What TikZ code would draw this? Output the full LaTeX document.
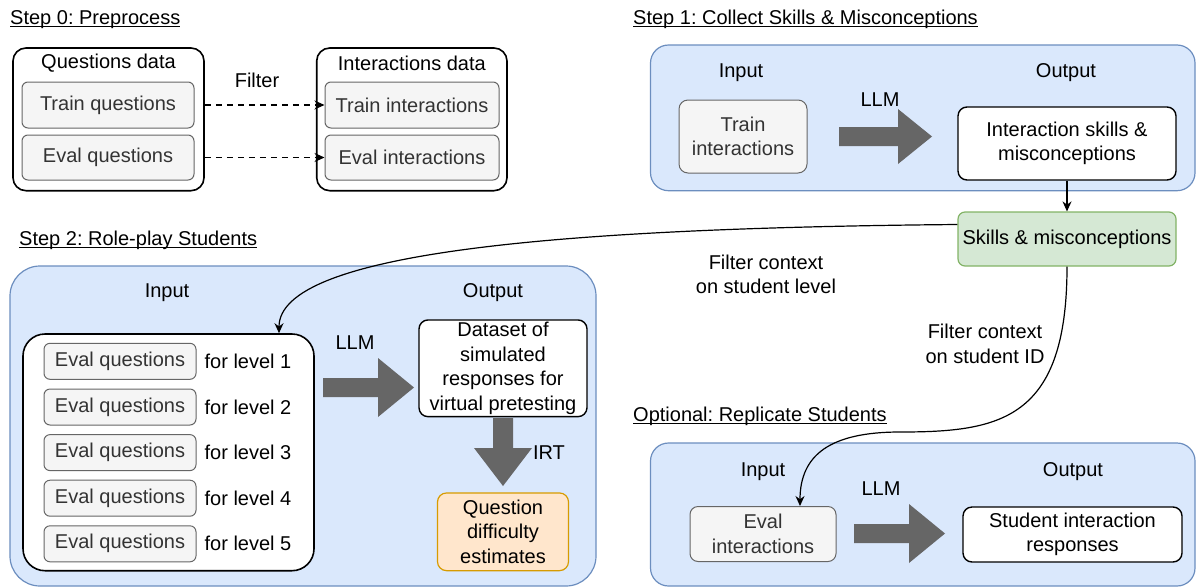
\documentclass[tikz,border=0pt]{standalone}
\usepackage{fontspec}
\setmainfont{Liberation Sans}
\usetikzlibrary{arrows.meta}
\definecolor{grayfill}{HTML}{F5F5F5}
\definecolor{graystroke}{HTML}{666666}
\definecolor{graytext}{HTML}{333333}
\definecolor{bluefill}{HTML}{DAE8FC}
\definecolor{bluestroke}{HTML}{6C8EBF}
\definecolor{greenfill}{HTML}{D5E8D4}
\definecolor{greenstroke}{HTML}{82B366}
\definecolor{orangefill}{HTML}{FFE6CC}
\definecolor{orangestroke}{HTML}{D79B00}
\definecolor{arrowgray}{HTML}{666666}
\frenchspacing
\begin{document}
\begin{tikzpicture}[x=1pt,y=-1pt,
  every node/.style={font=\fontsize{20}{24.5}\selectfont, inner sep=0pt, align=center},
  titlelbl/.style={anchor=base west},
  uline/.style={draw=black, line width=1.1pt},
  groupbox/.style={draw=black, line width=1.6pt, fill=white, rounded corners=13pt},
  graybox/.style={draw=graystroke, line width=1pt, fill=grayfill, text=graytext, rounded corners=6pt},
  bluepanel/.style={draw=bluestroke, line width=1.2pt, fill=bluefill},
  whitebox/.style={draw=black, line width=1.4pt, fill=white, rounded corners=9pt},
  greenbox/.style={draw=greenstroke, line width=1.2pt, fill=greenfill, rounded corners=7pt},
  orangebox/.style={draw=orangestroke, line width=1.2pt, fill=orangefill, rounded corners=9pt},
  bigarrow/.style={fill=arrowgray},
  conn/.style={draw=black, line width=1.2pt, -{Stealth[length=10pt,width=9pt]}},
  dconn/.style={conn, dash pattern=on 6pt off 5pt}
]
\useasboundingbox (0,0) rectangle (1196,587);

% ---------- Step 0 ----------
\node[titlelbl] (t0) at (10,24.5) {Step 0: Preprocess};
\draw[uline] ([yshift=-2.3pt]t0.base west) -- ([yshift=-2.3pt]t0.base east);
\node[groupbox, minimum width=191pt, minimum height=142.7pt] (qd) at (108.5,119.35) {};
\node (qdl) at (108.5,63) {Questions data};
\node[graybox, minimum width=172pt, minimum height=46pt] (tq) at (108,105) {Train questions};
\node[graybox, minimum width=172pt, minimum height=45pt] (eq) at (108,157.5) {Eval questions};
\node[groupbox, minimum width=190.3pt, minimum height=142.7pt] (id) at (411.85,119.35) {};
\node (idl) at (411.85,63) {Interactions data};
\node[graybox, minimum width=174pt, minimum height=46pt] (ti) at (412,105) {Train interactions};
\node[graybox, minimum width=174pt, minimum height=45pt] (ein) at (412,157.5) {Eval interactions};
\draw[dconn] (tq.east -| qd.east) -- (ti.west);
\draw[dconn] (eq.east -| qd.east) -- (ein.west);
\node (filt) at (257,80) {Filter};

% ---------- Step 1 ----------
\node[titlelbl] (t1) at (633,24.5) {Step 1: Collect Skills \& Misconceptions};
\draw[uline] ([yshift=-2.3pt]t1.base west) -- ([yshift=-2.3pt]t1.base east);
\node[bluepanel, rounded corners=18pt, minimum width=544.5pt, minimum height=145.7pt] (p1) at (922.75,117.85) {};
\node (in1) at (741,73) {Input};
\node (out1) at (1066,73) {Output};
\node[graybox, rounded corners=9pt, minimum width=128pt, minimum height=73pt] (tri) at (743,136.5) {Train\\interactions};
\node (llm1) at (880,100) {LLM};
\fill[bigarrow] (839,127) -- (898,127) -- (898,109) -- (932,136.5) -- (898,164) -- (898,146) -- (839,146) -- cycle;
\node[whitebox, minimum width=218pt, minimum height=73pt] (is) at (1067,143.5) {Interaction skills \&\\misconceptions};
\node[greenbox, minimum width=218pt, minimum height=54pt] (sk) at (1067,239) {Skills \& misconceptions};
\draw[conn] (is.south) -- (sk.north);

% ---------- Step 2 ----------
\node[titlelbl] (t2) at (19,245) {Step 2: Role-play Students};
\draw[uline] ([yshift=-2.3pt]t2.base west) -- ([yshift=-2.3pt]t2.base east);
\node[bluepanel, rounded corners=30pt, minimum width=586pt, minimum height=320pt] (p2) at (303,426) {};
\node (in2) at (167,293) {Input};
\node (out2) at (493,293) {Output};
\node[whitebox, line width=1.6pt, rounded corners=22pt, minimum width=291pt, minimum height=236.7pt] (inner) at (168.5,452.35) {};
\foreach \i/\yy in {1/361.3, 2/407, 3/452.6, 4/498.2, 5/543.8} {
  \node[graybox, minimum width=152pt, minimum height=36pt] (q\i) at (120,\yy) {Eval questions};
  \node (l\i) at (248,\yy) {for level \i};
}
\node (llm2) at (355,343) {LLM};
\fill[bigarrow] (323,378) -- (378,378) -- (378,358) -- (414,387.5) -- (378,417) -- (378,397) -- (323,397) -- cycle;
\node[whitebox, minimum width=168pt, minimum height=96.7pt] (ds) at (503,368.3) {Dataset of\\simulated\\responses for\\virtual pretesting};
\fill[bigarrow] (493,418) -- (513,418) -- (513,448) -- (532,448) -- (503,486) -- (474,448) -- (493,448) -- cycle;
\node (irt) at (549,453) {IRT};
\node[orangebox, minimum width=131pt, minimum height=77.7pt] (qde) at (503,531.8) {Question\\difficulty\\estimates};

% ---------- Optional ----------
\node[titlelbl] (t3) at (633,421.5) {Optional: Replicate Students};
\draw[uline] ([yshift=-2.3pt]t3.base west) -- ([yshift=-2.3pt]t3.base east);
\node[bluepanel, rounded corners=18pt, minimum width=544.5pt, minimum height=143pt] (p3) at (922.75,514.5) {};
\node (in3) at (763,471.7) {Input};
\node (out3) at (1073,471.7) {Output};
\node[graybox, rounded corners=8pt, minimum width=146pt, minimum height=55pt] (ei) at (763,534) {Eval\\interactions};
\node (llm3) at (881,489) {LLM};
\fill[bigarrow] (854,524) -- (909,524) -- (909,504) -- (945,533.5) -- (909,563) -- (909,543) -- (854,543) -- cycle;
\node[whitebox, minimum width=219pt, minimum height=55pt] (sir) at (1072.5,534.5) {Student interaction\\responses};

% ---------- Cross connectors ----------
\coordinate (bend2) at (900,432);
\draw[conn] ([yshift=14.5pt]sk.west) .. controls (560,228) and (279,252) .. ([xshift=110.5pt]inner.north);
\draw[conn] (sk.south) .. controls (1067,420) and (1000,432) .. (bend2) .. controls (830,432) and (800,455) .. ([xshift=37pt]ei.north);
\node (fc1) at (766,274.5) {Filter context\\on student level};
\node (fc2) at (985,344) {Filter context\\on student ID};
\end{tikzpicture}
\end{document}
